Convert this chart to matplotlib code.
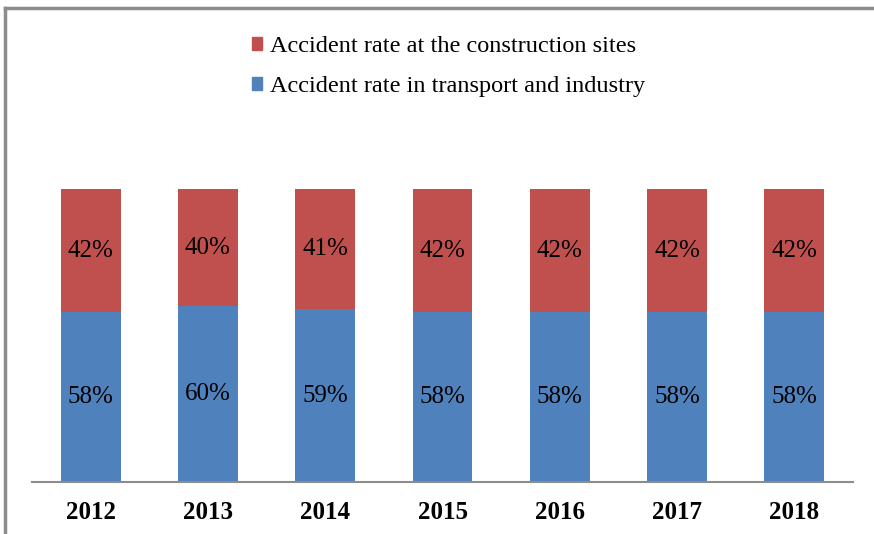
import matplotlib
matplotlib.use('Agg')
import matplotlib.pyplot as plt
from matplotlib.patches import Patch
from matplotlib.lines import Line2D
import numpy as np

plt.rcParams['font.family'] = 'Liberation Serif'

years = ['2012', '2013', '2014', '2015', '2016', '2017', '2018']
transport = [58, 60, 59, 58, 58, 58, 58]
construction = [42, 40, 41, 42, 42, 42, 42]

blue = '#4F81BD'
red = '#C0504D'

fig = plt.figure(figsize=(8.74, 5.34), dpi=100)
ax = fig.add_axes([0.0366, 0.0974, 0.9394, 0.5487])

x = np.arange(len(years))
ax.bar(x, transport, width=0.51, color=blue)
ax.bar(x, construction, width=0.51, bottom=transport, color=red)

for i in range(len(years)):
    ax.text(x[i], transport[i] / 2, f'{transport[i]}%', ha='center', va='center', fontsize=18)
    ax.text(x[i], transport[i] + construction[i] / 2, f'{construction[i]}%', ha='center', va='center', fontsize=18)

ax.set_xlim(-0.5, len(years) - 0.5)
ax.set_ylim(0, 100)
ax.set_xticks(x)
ax.set_xticklabels(years, fontsize=18, fontweight='bold')
ax.tick_params(axis='x', length=0, pad=14)
ax.set_yticks([])
for s in ['top', 'right', 'left']:
    ax.spines[s].set_visible(False)
ax.spines['bottom'].set_color('#8c8c8c')
ax.spines['bottom'].set_linewidth(1.5)

handles = [Patch(color=red), Patch(color=blue)]
labels = ['Accident rate at the construction sites', 'Accident rate in transport and industry']
fig.legend(handles, labels, loc='upper left', bbox_to_anchor=(0.274, 0.955), frameon=False, borderpad=0,
           fontsize=17.5, handlelength=0.42, handleheight=0.42, handletextpad=0.33, labelspacing=0.79)

# outer frame (left and top edges)
fig.add_artist(Line2D([0.0057, 0.0057], [0, 0.985], color='#8c8c8c', lw=2.5, transform=fig.transFigure))
fig.add_artist(Line2D([0.0057, 1], [0.985, 0.985], color='#8c8c8c', lw=2.5, transform=fig.transFigure))

fig.savefig('out.png', dpi=100)
